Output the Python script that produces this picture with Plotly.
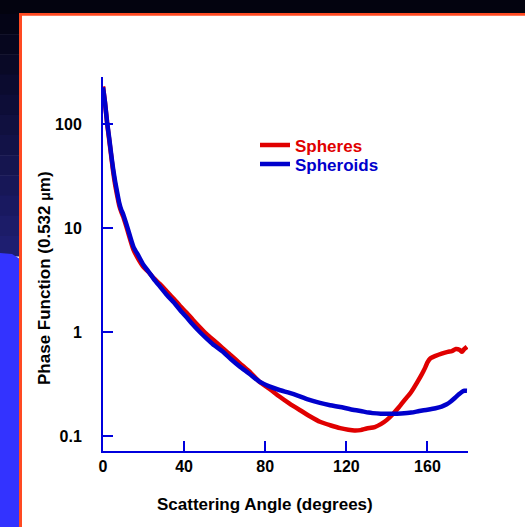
import plotly.graph_objects as go

# Phase function at 0.532 um versus scattering angle
sphere_angle = [0, 1, 2, 3, 4, 5, 6, 7, 8, 9, 10, 12, 15, 17.5, 20, 22.5, 25, 28,
                31.5, 35, 38, 41, 44.5, 48, 51, 55, 59, 63, 67.5, 72, 77, 82, 87,
                92, 97, 102, 107, 112, 117, 121, 124, 127, 130, 134, 137, 140, 143,
                146, 149, 152, 155, 156.5, 158, 159, 160, 161.5, 164, 167, 170, 172,
                174, 176, 177, 178, 179.5]
sphere_value = [230, 160, 103, 72, 50, 35, 26, 20.5, 16.5, 14.3, 12.8, 9.6, 6.2, 5.0,
                4.2, 3.75, 3.3, 2.9, 2.45, 2.08, 1.78, 1.55, 1.3, 1.1, 0.96, 0.82,
                0.70, 0.60, 0.50, 0.42, 0.335, 0.285, 0.24, 0.205, 0.178, 0.155,
                0.137, 0.127, 0.119, 0.115, 0.113, 0.114, 0.118, 0.122, 0.13, 0.143,
                0.163, 0.19, 0.225, 0.265, 0.33, 0.37, 0.42, 0.46, 0.51, 0.56, 0.59,
                0.62, 0.645, 0.655, 0.685, 0.67, 0.645, 0.68, 0.72]

spheroid_angle = [0, 1, 2, 3, 4, 5, 6, 7, 8, 9, 10, 12, 15, 17.5, 20, 22.5, 25, 28,
                  31.5, 35, 38, 41, 44.5, 48, 51, 55, 59, 63, 67.5, 72, 77, 82, 87,
                  92, 96, 101, 107, 112, 117, 122, 127, 131, 133, 137, 142, 147, 152,
                  156, 160, 164, 167, 169.5, 171.5, 173.5, 175.5, 177, 178.2, 179.5]
spheroid_value = [225, 160, 105, 75, 52, 37, 28, 22, 17.5, 15, 13.5, 10.2, 6.6, 5.4,
                  4.4, 3.8, 3.25, 2.75, 2.27, 1.92, 1.63, 1.40, 1.17, 0.99, 0.87,
                  0.74, 0.65, 0.55, 0.465, 0.40, 0.335, 0.30, 0.277, 0.26, 0.245,
                  0.225, 0.208, 0.198, 0.19, 0.181, 0.174, 0.168, 0.166, 0.164,
                  0.164, 0.165, 0.168, 0.174, 0.179, 0.185, 0.192, 0.202, 0.215,
                  0.232, 0.252, 0.266, 0.272, 0.272]

x_ticks = [0, 40, 80, 120, 160]
y_ticks = [0.1, 1, 10, 100]
y_tick_text = ["0.1", "1", "10", "100"]

RED = "#e00000"
BLUE = "#0000cc"
AXIS = "#0000dd"
FONT = "Liberation Sans, Arial, Helvetica, sans-serif"

# figure geometry (pixels)
FIG_W, FIG_H = 525, 527
ML, MR, MT, MB = 103, 57, 77, 76
PW, PH = FIG_W - ML - MR, FIG_H - MT - MB


def px_x(px):
    return (px - ML) / PW


def px_y(py):
    return (FIG_H - MB - py) / PH


fig = go.Figure()
fig.add_trace(go.Scatter(x=sphere_angle, y=sphere_value, mode="lines", name="Spheres",
                         line=dict(color=RED, width=4.5, shape="spline", smoothing=0.6),
                         legend="legend", showlegend=True))
fig.add_trace(go.Scatter(x=spheroid_angle, y=spheroid_value, mode="lines", name="Spheroids",
                         line=dict(color=BLUE, width=4.5, shape="spline", smoothing=0.6),
                         legend="legend2", showlegend=True))

# slide backdrop: dark top band, shaded left strip, bright blue block, orange frame
shapes = []


def rect(x0, y0, x1, y1, color):
    return dict(type="rect", xref="paper", yref="paper", layer="above",
                x0=px_x(x0), x1=px_x(x1), y0=px_y(y0), y1=px_y(y1),
                fillcolor=color, line=dict(width=0))


shapes.append(rect(0, 0, FIG_W, 14, "#03030f"))
top_c = (4, 4, 22)
bot_c = (30, 30, 112)
n_band = 12
y_start, y_end = 14, 256
for i in range(n_band):
    t = i / (n_band - 1)
    c = tuple(int(round(a + (b - a) * t)) for a, b in zip(top_c, bot_c))
    y0 = y_start + (y_end - y_start) * i / n_band
    y1 = y_start + (y_end - y_start) * (i + 1) / n_band
    shapes.append(rect(0, y0, 20, y1 + 0.5, "rgb(%d,%d,%d)" % c))
path = "M {a},{b} L {c},{d} L {e},{f} L {g},{h} L {i},{j} Z".format(
    a=px_x(0), b=px_y(253), c=px_x(12), d=px_y(254), e=px_x(20), f=px_y(259),
    g=px_x(20), h=px_y(FIG_H), i=px_x(0), j=px_y(FIG_H))
shapes.append(dict(type="path", xref="paper", yref="paper", layer="above", path=path,
                   fillcolor="#3333ff", line=dict(width=0)))
shapes.append(rect(19, 13, FIG_W, 15.8, "#ff4a22"))
shapes.append(rect(19, 13, 22, FIG_H, "#ff4a22"))

axis_common = dict(showline=True, linecolor=AXIS, linewidth=2, ticks="inside",
                   ticklen=10, tickwidth=2, tickcolor=AXIS, showgrid=False,
                   zeroline=False, tickfont=dict(family=FONT, size=16, color="black",
                                                 weight="bold"))

fig.update_layout(
    width=FIG_W, height=FIG_H,
    margin=dict(l=ML, r=MR, t=MT, b=MB, pad=0),
    paper_bgcolor="white", plot_bgcolor="rgba(0,0,0,0)",
    showlegend=True,
    font=dict(family=FONT, size=16, color="black", weight="bold"),
    xaxis=dict(range=[0, 180], tickvals=x_ticks, **axis_common),
    yaxis=dict(type="log", range=[-1.144, 2.452], tickvals=y_ticks,
               ticktext=y_tick_text, ticklabelstandoff=16, **axis_common),
    legend=dict(x=px_x(255), y=px_y(145.5), xanchor="left", yanchor="middle",
                bgcolor="rgba(0,0,0,0)", borderwidth=0,
                font=dict(family=FONT, size=17, color=RED, weight="bold")),
    legend2=dict(x=px_x(255), y=px_y(164.5), xanchor="left", yanchor="middle",
                 bgcolor="rgba(0,0,0,0)", borderwidth=0,
                 font=dict(family=FONT, size=17, color=BLUE, weight="bold")),
    shapes=shapes,
    annotations=[
        dict(text="Scattering Angle (degrees)", xref="paper", yref="paper",
             x=px_x(265), y=px_y(505), xanchor="center", yanchor="middle",
             showarrow=False, font=dict(family=FONT, size=17, color="black", weight="bold")),
        dict(text="Phase Function (0.532 <span style='font-size:14px'>\u03bc</span>m)",
             xref="paper", yref="paper", x=px_x(44), y=px_y(278), textangle=-90,
             xanchor="center", yanchor="middle", showarrow=False,
             font=dict(family=FONT, size=17, color="black", weight="bold")),
    ],
)

fig.write_html("out.html")
